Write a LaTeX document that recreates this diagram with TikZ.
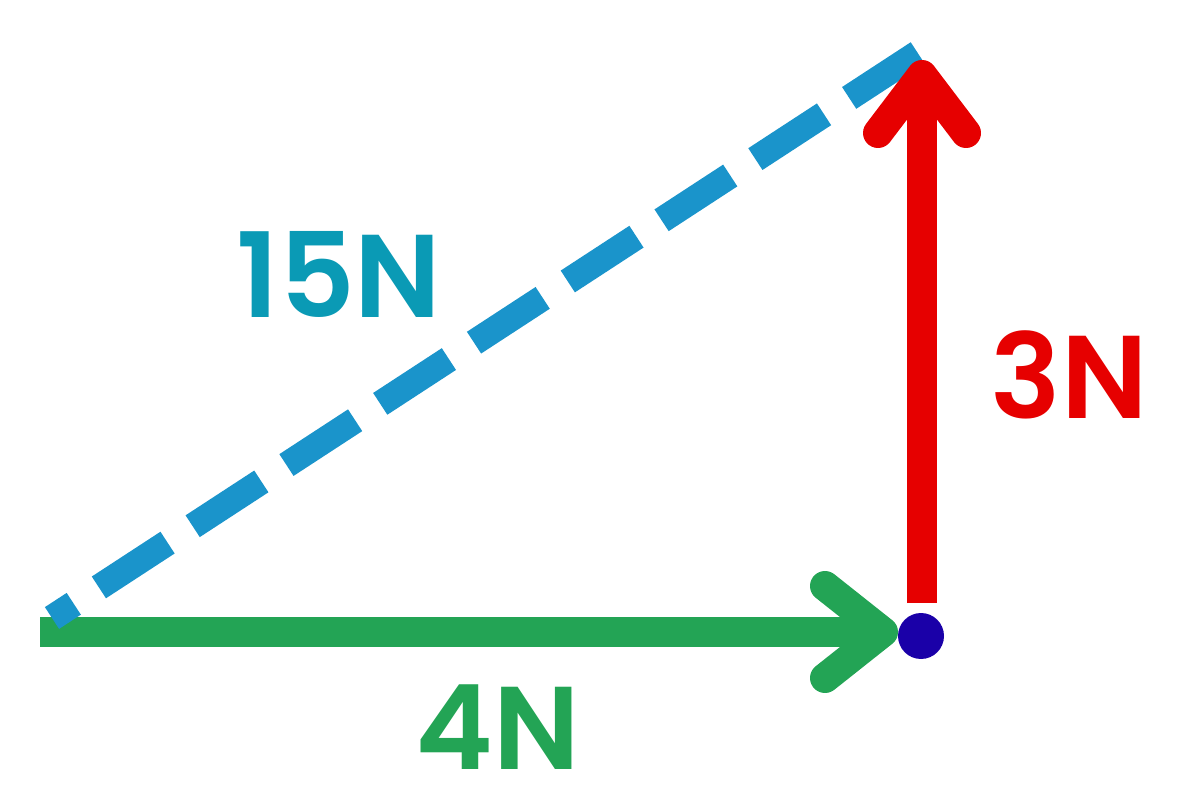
\documentclass[tikz,border=0pt]{standalone}
\usepackage{fontspec}
\setmainfont{Poppins}
\newfontfamily\labelfont{Poppins SemiBold}
\definecolor{fgreen}{HTML}{23A455}
\definecolor{fred}{HTML}{E60000}
\definecolor{fblue}{HTML}{1A94CB}
\definecolor{fteal}{HTML}{0A9AB5}
\definecolor{fdot}{HTML}{1A00A8}

\begin{document}
\begin{tikzpicture}[x=0.02cm,y=-0.02cm,
    shaft/.style={line width=0.6cm},
    chevron/.style={line width=0.6cm,line cap=round,line join=round},
    resultant/.style={fblue,line width=0.52cm,dash pattern=on 1.64cm off 0.6cm,dash phase=1.12cm},
    forcelabel/.style={inner sep=0pt,font=\labelfont\fontsize{67}{67}\selectfont}]
  \useasboundingbox (0,0) rectangle (1190,804);

  \coordinate (o) at (40,632);
  \coordinate (tip4) at (883,632);
  \coordinate (base3) at (922,603);
  \coordinate (tip3) at (922,75);
  \coordinate (h0) at (52,618);
  \coordinate (h1) at (918,53);

  % 4N along the ground
  \draw[fgreen,shaft] (o) -- (tip4);
  \draw[fgreen,chevron] (tip4) ++(-58,-46) -- (tip4) -- ++(-58,46);

  % resultant
  \draw[resultant] (h0) -- (h1);

  % 3N upwards
  \draw[fred,shaft] (base3) -- (tip3);
  \draw[fred,chevron] (tip3) ++(-44,58) -- (tip3) -- ++(44,58);

  \fill[fdot] (921,636) circle (0.46cm);

  \node[forcelabel,fteal] (l15) at (339,274) {15N};
  \node[forcelabel,fred] (l3) at (1069,375) {3N};
  \node[forcelabel,fgreen] (l4) at (498,727) {4N};
\end{tikzpicture}
\end{document}
